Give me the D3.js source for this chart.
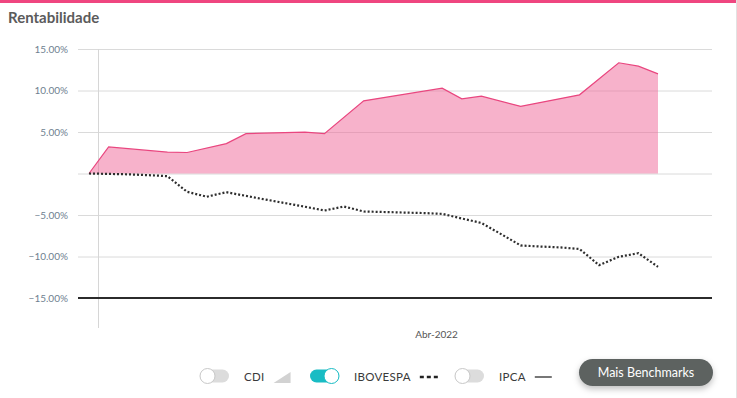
<!DOCTYPE html>
<html>
<head>
<meta charset="utf-8">
<script src="https://cdn.jsdelivr.net/npm/d3@7"></script>
<style>
	body { margin: 0; background: #fff; font-family: Lato, 'Open Sans', sans-serif; }
	svg { display: block; }
</style>
</head>
<body>
<div id="chart"></div>
<script>
// weekly dates (IBOVESPA has one value per week)
const startDate = new Date(2021, 10, 28);
const weeks = d3.range(30).map(i => d3.timeWeek.offset(startDate, i));

// carteira (pink area): week index + return %
const carteiraWeeks = [0, 1, 4, 5, 7, 8, 11, 12, 14, 18, 19, 20, 22, 25, 27, 28, 29];
const carteiraValues = [0, 3.2, 2.57, 2.53, 3.6, 4.8, 4.98, 4.8, 8.76, 10.28, 9.0, 9.31, 8.1, 9.48, 13.34, 12.93, 12.01];

const ibovespaValues = [0, -0.05, -0.1, -0.2, -0.32, -2.2, -2.8, -2.25, -2.7, -3.14, -3.57, -4.0, -4.46, -3.98, -4.58,
	-4.64, -4.7, -4.76, -4.86, -5.42, -5.96, -7.3, -8.67, -8.8, -8.9, -9.1, -11.04, -10.04, -9.6, -11.24];

const yTicks = [15, 10, 5, 0, -5, -10, -15];
const xLabels = [{ date: new Date(2022, 3, 1), label: 'Abr-2022' }];

const legendItems = [
	{ name: 'CDI', on: false, icon: 'area' },
	{ name: 'IBOVESPA', on: true, icon: 'dots' },
	{ name: 'IPCA', on: false, icon: 'line' }
];

const width = 737;
const height = 398;

const svg = d3.select('#chart').append('svg')
	.attr('width', width)
	.attr('height', height);

// top pink bar + right border
svg.append('rect').attr('x', 0).attr('y', 0).attr('width', 736).attr('height', 3).attr('fill', '#ef4680');
svg.append('line').attr('x1', 736.5).attr('x2', 736.5).attr('y1', 0).attr('y2', height)
	.attr('stroke', '#e2e2e2');

svg.append('text')
	.attr('x', 8).attr('y', 23)
	.attr('font-size', 15).attr('font-weight', 700)
	.attr('fill', '#5b5b5b')
	.text('Rentabilidade');

const x = d3.scaleTime()
	.domain([weeks[0], weeks[weeks.length - 1]])
	.range([89, 658]);

const y = d3.scaleLinear()
	.domain([-15, 15])
	.range([298, 49]);

// horizontal grid + y labels
const yAxis = d3.axisLeft(y)
	.tickValues(yTicks)
	.tickSize(0)
	.tickPadding(10)
	.tickFormat(d => d === 0 ? '' : d3.format('.2f')(d) + '%');

const gy = svg.append('g')
	.attr('transform', 'translate(78,0)')
	.call(yAxis);
gy.select('.domain').remove();
gy.selectAll('.tick line').attr('stroke', '#dadada').attr('x1', 0).attr('x2', 634);
gy.selectAll('.tick text')
	.attr('x', -10)
	.attr('fill', '#6f7f90')
	.attr('font-size', 10)
	.attr('font-family', 'Lato, sans-serif');

// vertical axis line
svg.append('line')
	.attr('x1', 98.5).attr('x2', 98.5)
	.attr('y1', 49).attr('y2', 328)
	.attr('stroke', '#d6d6d6');

// x label
svg.selectAll('.xlabel')
	.data(xLabels)
	.enter().append('text')
	.attr('class', 'xlabel')
	.attr('x', d => x(d.date))
	.attr('y', 338)
	.attr('text-anchor', 'middle')
	.attr('font-size', 10)
	.attr('fill', '#555')
	.text(d => d.label);

// carteira area
const carteira = carteiraWeeks.map((w, i) => ({ date: weeks[w], value: carteiraValues[i] }));

const area = d3.area()
	.x(d => x(d.date))
	.y0(y(0))
	.y1(d => y(d.value));

const line = d3.line()
	.x(d => x(d.date))
	.y(d => y(d.value));

svg.append('path')
	.datum(carteira)
	.attr('d', area)
	.attr('fill', '#f06b9c')
	.attr('fill-opacity', 0.52);

svg.append('path')
	.datum(carteira)
	.attr('d', line)
	.attr('fill', 'none')
	.attr('stroke', '#e9467f')
	.attr('stroke-width', 1.2);

// ibovespa dotted
const ibovespa = weeks.map((d, i) => ({ date: d, value: ibovespaValues[i] }));

svg.append('path')
	.datum(ibovespa)
	.attr('d', line)
	.attr('fill', 'none')
	.attr('stroke', '#2e2e2e')
	.attr('stroke-width', 2.2)
	.attr('stroke-dasharray', '2 2');

// bottom black line at -15%
svg.append('line')
	.attr('x1', 78).attr('x2', 712)
	.attr('y1', y(-15)).attr('y2', y(-15))
	.attr('stroke', '#2b2b2b')
	.attr('stroke-width', 2);

// legend
const legendX = [200, 310, 455];
const legend = svg.selectAll('.legend')
	.data(legendItems)
	.enter().append('g')
	.attr('class', 'legend')
	.attr('transform', (d, i) => `translate(${legendX[i]},376)`);

legend.append('rect')
	.attr('x', 0).attr('y', -6.5)
	.attr('width', 29).attr('height', 13)
	.attr('rx', 6.5)
	.attr('fill', d => d.on ? '#19bcc4' : '#dcdcdc');

legend.append('circle')
	.attr('cx', d => d.on ? 21.5 : 7.5)
	.attr('cy', 0)
	.attr('r', 7.5)
	.attr('fill', '#fff')
	.attr('stroke', d => d.on ? '#19bcc4' : '#c8c8c8')
	.attr('stroke-width', 1);

legend.append('text')
	.attr('x', 44).attr('y', 4.5)
	.attr('font-size', 11.5)
	.attr('fill', '#3a3a3a')
	.attr('letter-spacing', 0.3)
	.text(d => d.name);

legend.each(function (d) {
	const g = d3.select(this);
	const tw = this.querySelector('text').getComputedTextLength();
	const ix = 44 + tw + 9;
	if (d.icon === 'area') {
		g.append('path')
			.attr('d', `M${ix},7L${ix + 17},7L${ix + 17},-4Z`)
			.attr('fill', '#d2d2d2');
	} else if (d.icon === 'dots') {
		g.append('line')
			.attr('x1', ix).attr('x2', ix + 18)
			.attr('y1', 1).attr('y2', 1)
			.attr('stroke', '#222').attr('stroke-width', 2.5)
			.attr('stroke-dasharray', '4 3');
	} else {
		g.append('line')
			.attr('x1', ix).attr('x2', ix + 17)
			.attr('y1', 1).attr('y2', 1)
			.attr('stroke', '#555').attr('stroke-width', 1.6);
	}
});

// button
const defs = svg.append('defs');
const filter = defs.append('filter').attr('id', 'shadow').attr('x', '-20%').attr('y', '-40%').attr('width', '140%').attr('height', '200%');
filter.append('feDropShadow').attr('dx', 0).attr('dy', 3).attr('stdDeviation', 3).attr('flood-color', '#000').attr('flood-opacity', 0.25);

svg.append('rect')
	.attr('x', 579).attr('y', 359)
	.attr('width', 134).attr('height', 27)
	.attr('rx', 13.5)
	.attr('fill', '#5d6261')
	.attr('filter', 'url(#shadow)');

svg.append('text')
	.attr('x', 646).attr('y', 377)
	.attr('text-anchor', 'middle')
	.attr('font-size', 12.5)
	.attr('fill', '#fff')
	.text('Mais Benchmarks');
</script>
</body>
</html>
